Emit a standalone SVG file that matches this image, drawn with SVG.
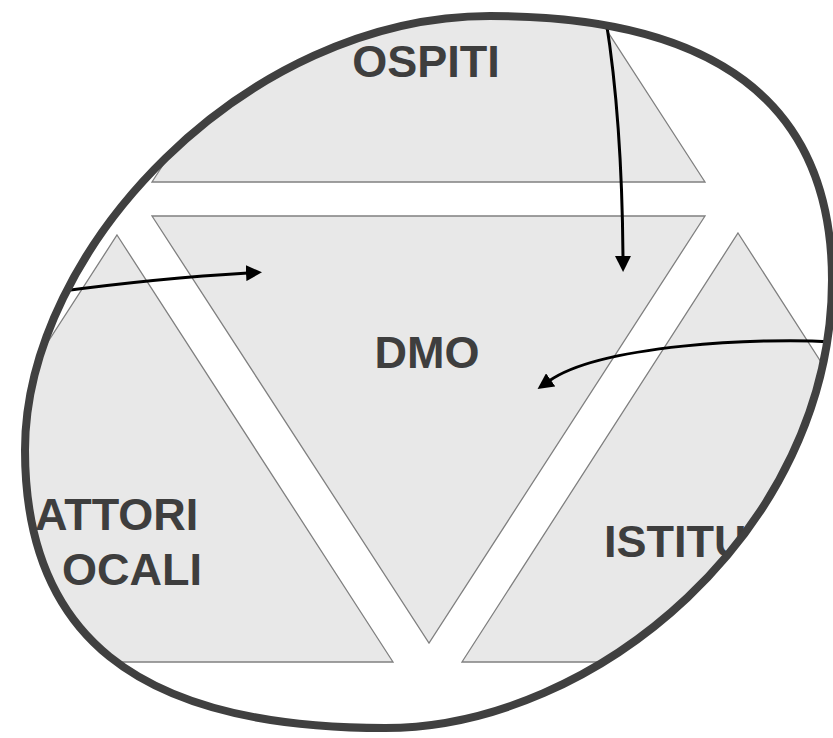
<svg xmlns="http://www.w3.org/2000/svg" width="833" height="738" viewBox="0 0 833 738">
<style>
.tri{fill:#e8e8e8;stroke:#808080;stroke-width:1.3}
.lbl{font-family:"Liberation Sans",Arial,sans-serif;font-weight:bold;font-size:45px;fill:#3e3e3e}
.arr{fill:none;stroke:#000;stroke-width:3}
.rim{fill:none;stroke:#404040;stroke-width:8}
</style>
<defs>
<path id="rimPath" d="M490,16 C712,16 832,100 832,280 C832,530 595,728 385,728 C130,728 25,630 25,450 C25,250 245,16 490,16 Z"/>
<clipPath id="inside"><use href="#rimPath"/></clipPath>
<marker id="head" markerUnits="userSpaceOnUse" markerWidth="16" markerHeight="16" viewBox="0 0 16 16" refX="2" refY="8" orient="auto">
<path d="M0,0 L16,8 L0,16 Z" fill="#000"/>
</marker>
</defs>
<rect width="833" height="738" fill="#fff"/>
<g clip-path="url(#inside)">
<g id="node-ospiti">
<polygon class="tri" points="428.5,-245 705,182 152,182"/>
<text class="lbl" x="426" y="77" text-anchor="middle">OSPITI</text>
</g>
<g id="node-dmo">
<polygon class="tri" points="152,216 705,216 429,643"/>
<text class="lbl" x="427" y="368" text-anchor="middle">DMO</text>
</g>
<g id="node-attori-locali">
<polygon class="tri" points="117,235 393,662 -159,662"/>
<text class="lbl" x="35" y="530">ATTORI</text>
<text class="lbl" x="62" y="585">OCALI</text>
</g>
<g id="node-istituzioni">
<polygon class="tri" points="738,233 1014,662 462,662"/>
<text class="lbl" x="604" y="557">ISTITU</text>
</g>
<g id="connectors">
<path class="arr" d="M606,20 Q622,120 623,258" marker-end="url(#head)"/>
<path class="arr" d="M55,292 Q160,278 248,273" marker-end="url(#head)"/>
<path class="arr" d="M836,342 C760,337 600,345 549,381" marker-end="url(#head)"/>
</g>
</g>
<g id="boundary">
<use href="#rimPath" class="rim"/>
</g>
</svg>
